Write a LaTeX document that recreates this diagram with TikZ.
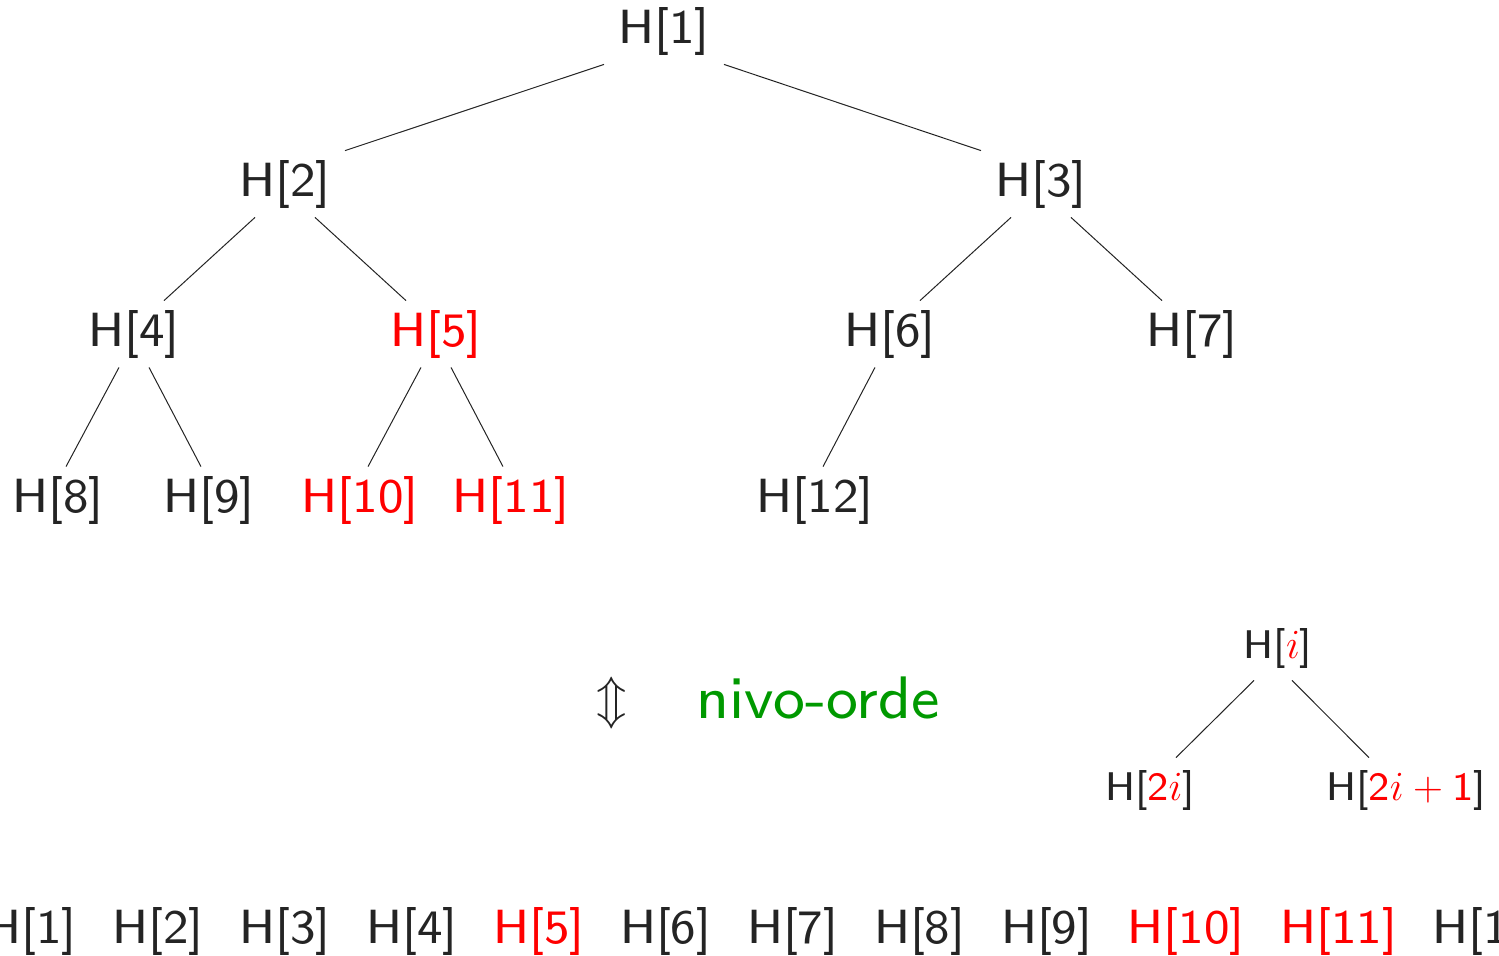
\documentclass[tikz,border=0pt]{standalone}
\usepackage{fontspec}
\setsansfont{lmsans8-regular}[Extension=.otf]
\usetikzlibrary{positioning}
\renewcommand{\familydefault}{\sfdefault}
\definecolor{nivogreen}{rgb}{0,0.6,0}
\definecolor{ink}{rgb}{0.14,0.14,0.14}
\tikzset{
  key/.style={font=\fontsize{24}{28}\selectfont, text=ink, inner xsep=2pt, inner ysep=4.5pt},
  hot/.style={key, text=red},
  small/.style={font=\fontsize{20}{24}\selectfont, text=ink, inner xsep=2pt, inner ysep=6pt},
  cell/.style={font=\fontsize{24}{28}\selectfont, inner sep=0pt},
  edge/.style={line width=0.5pt, ink},
}
\begin{document}
\begin{tikzpicture}[x=0.5pt, y=-0.5pt]
\useasboundingbox (0,0) rectangle (1499,955);
\clip (0,0) rectangle (1499,955);

% the heap as a tree
\node[key] (h1) at (664,31) {H[1]};
\node[key] (h2) at (285,184) {H[2]};
\node[key] (h3) at (1041,184) {H[3]};
\node[key] (h4) at (134,334) {H[4]};
\node[hot] (h5) at (436,334) {H[5]};
\node[key] (h6) at (890,334) {H[6]};
\node[key] (h7) at (1192,334) {H[7]};
\node[key] (h8) at (58,500) {H[8]};
\node[key] (h9) at (209,500) {H[9]};
\node[hot] (h10) at (360,500) {H[10]};
\node[hot] (h11) at (511,500) {H[11]};
\node[key] (h12) at (815,500) {H[12]};
\foreach \a/\b/\p/\c in {1/2/-30/30,1/3/30/-30,2/4/-15/15,2/5/15/-15,3/6/-15/15,3/7/15/-15,
	4/8/-7.5/4,4/9/7.5/-4,5/10/-7.5/4,5/11/7.5/-4,6/12/-7.5/4}
	\draw[edge] ([xshift=\p pt]h\a.south) -- ([xshift=\c pt]h\b.north);

% level order
\node[font=\fontsize{30}{36}\selectfont, text=ink] (updown) at (612,703) {$\Updownarrow$};
\node[font=\fontsize{30}{36}\selectfont, text=nivogreen] (nivo) at (818,698) {nivo-orde};

% parent and children
\node[small] (pi) at (1278,648) {H[{\color{red}$i$}]};
\node[small] (pl) at (1150,790) {H[{\color{red}$\mathsf{2}i$}]};
\node[small] (pr) at (1406,790) {H[{\color{red}$\mathsf{2}i+\mathsf{1}$}]};
\draw[edge] ([xshift=-12pt]pi.south) -- ([xshift=13pt]pl.north);
\draw[edge] ([xshift=7pt]pi.south) -- ([xshift=-18.5pt]pr.north);

% the heap as an array
\node[cell, text=ink, anchor=west] (r1) at (-15,931) {H[1]};
\foreach \i/\j/\c in {2/1/ink,3/2/ink,4/3/ink,5/4/red,6/5/ink,7/6/ink,
	8/7/ink,9/8/ink,10/9/red,11/10/red,12/11/ink}
	\node[cell, text=\c, right=17.5pt of r\j] (r\i) {H[\i]};
\end{tikzpicture}
\end{document}
